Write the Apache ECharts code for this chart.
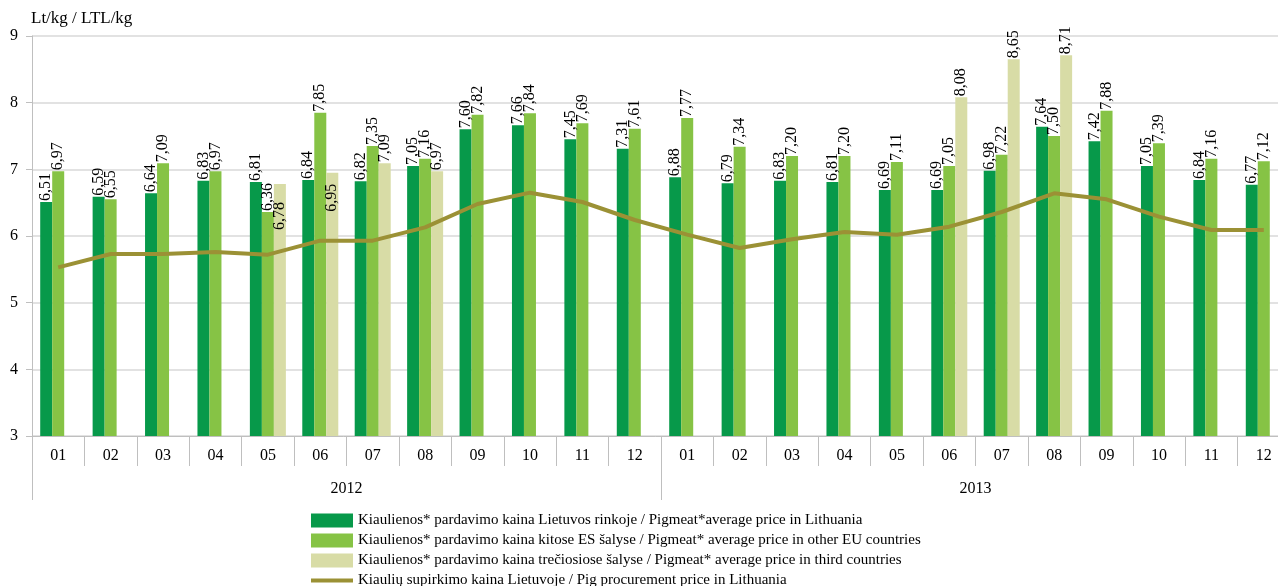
<!DOCTYPE html>
<html>
<head>
<meta charset="utf-8">
<script src="https://cdn.jsdelivr.net/npm/echarts@6/dist/echarts.min.js"></script>
<style>
  html, body { margin: 0; padding: 0; background: #fff; }
  #chart { width: 1278px; height: 586px; }
</style>
</head>
<body>
<div id="chart"></div>
<script>
const months = ['01', '02', '03', '04', '05', '06', '07', '08', '09', '10', '11', '12',
  '01', '02', '03', '04', '05', '06', '07', '08', '09', '10', '11', '12']
const years = ['2012', '2013']

const priceLithuania = [6.51, 6.59, 6.64, 6.83, 6.81, 6.84, 6.82, 7.05, 7.60, 7.66, 7.45, 7.31,
  6.88, 6.79, 6.83, 6.81, 6.69, 6.69, 6.98, 7.64, 7.42, 7.05, 6.84, 6.77]
const priceOtherEU = [6.97, 6.55, 7.09, 6.97, 6.36, 7.85, 7.35, 7.16, 7.82, 7.84, 7.69, 7.61,
  7.77, 7.34, 7.20, 7.20, 7.11, 7.05, 7.22, 7.50, 7.88, 7.39, 7.16, 7.12]
const priceThird = [null, null, null, null, 6.78, 6.95, 7.09, 6.97, null, null, null, null,
  null, null, null, null, null, 8.08, 8.65, 8.71, null, null, null, null]
const procurement = [5.53, 5.73, 5.73, 5.76, 5.72, 5.93, 5.93, 6.13, 6.48, 6.65, 6.51, 6.24,
  6.02, 5.82, 5.95, 6.06, 6.02, 6.14, 6.36, 6.64, 6.55, 6.29, 6.09, 6.09]

// labels that sit inside the bar in the original (index -> gap from bar top)
const thirdInside = {4: 16, 5: 9}

const names = [
  'Kiaulienos* pardavimo kaina Lietuvos rinkoje / Pigmeat*average price in Lithuania',
  'Kiaulienos* pardavimo kaina kitose ES šalyse / Pigmeat* average price in other EU countries',
  'Kiaulienos* pardavimo kaina trečiosiose šalyse / Pigmeat* average price in third countries',
  'Kiaulių supirkimo kaina Lietuvoje / Pig procurement price in Lithuania'
]

const font = 'Liberation Serif'
const fmt = v => v.toFixed(2).replace('.', ',')
const gridColor = '#d9d9d9'
const axisColor = '#bfbfbf'

const barLabel = {
  show: true,
  position: 'top',
  rotate: 90,
  align: 'left',
  verticalAlign: 'middle',
  distance: 3,
  offset: [-2, 0],
  fontFamily: font,
  fontSize: 16,
  color: '#000',
  formatter: p => fmt(p.value)
}

const makeBar = (name, data, color, inside = {}) => ({
  name,
  type: 'bar',
  xAxisIndex: 0,
  barWidth: 12,
  barGap: '0%',
  itemStyle: {color},
  label: barLabel,
  data: data.map((v, i) => inside[i] != null && v != null
      ? {value: v, label: {position: 'insideTop', align: 'right', distance: inside[i]}}
      : v)
})

const chart = echarts.init(document.getElementById('chart'))
chart.setOption({
  animation: false,
  backgroundColor: '#fff',
  title: {
    text: 'Lt/kg / LTL/kg',
    left: 26,
    top: 5,
    textStyle: {fontFamily: font, fontSize: 17, fontWeight: 'normal', color: '#000'}
  },
  // the last month runs past the right edge in the original
  grid: {left: 32, right: -12, top: 36, bottom: 150, outerBoundsMode: 'none'},
  legend: {
    orient: 'vertical',
    left: 306,
    top: 508,
    height: 120,
    itemWidth: 42,
    itemHeight: 14,
    itemGap: 5,
    textStyle: {fontFamily: font, fontSize: 15, color: '#000'},
    data: [
      {name: names[0], icon: 'rect'},
      {name: names[1], icon: 'rect'},
      {name: names[2], icon: 'rect'},
      {name: names[3], icon: 'path://M0,0 L42,0 L42,4 L0,4 Z', itemStyle: {color: '#9b9135'}}
    ]
  },
  xAxis: [
    {
      type: 'category',
      data: months,
      position: 'bottom',
      axisLine: {show: true, lineStyle: {color: axisColor}},
      axisTick: {show: true, length: 30, lineStyle: {color: axisColor}},
      axisLabel: {fontFamily: font, fontSize: 16, color: '#000', margin: 12, interval: 0}
    },
    {
      type: 'category',
      data: years,
      position: 'bottom',
      axisLine: {show: false},
      axisTick: {show: true, length: 64, lineStyle: {color: axisColor}},
      axisLabel: {fontFamily: font, fontSize: 16, color: '#000', margin: 45}
    }
  ],
  yAxis: {
    type: 'value',
    min: 3,
    max: 9,
    interval: 1,
    axisLine: {show: true, lineStyle: {color: axisColor}},
    axisTick: {show: true, length: 6, lineStyle: {color: axisColor}},
    axisLabel: {fontFamily: font, fontSize: 16, color: '#000', margin: 14},
    splitLine: {lineStyle: {color: gridColor, width: 1.5}}
  },
  series: [
    makeBar(names[0], priceLithuania, '#07994a'),
    makeBar(names[1], priceOtherEU, '#86c345'),
    makeBar(names[2], priceThird, '#d8dca6', thirdInside),
    {
      name: names[3],
      type: 'line',
      xAxisIndex: 0,
      data: procurement,
      symbol: 'none',
      lineStyle: {color: '#9b9135', width: 4},
      itemStyle: {color: '#9b9135'},
      z: 5
    }
  ]
})
</script>
</body>
</html>
